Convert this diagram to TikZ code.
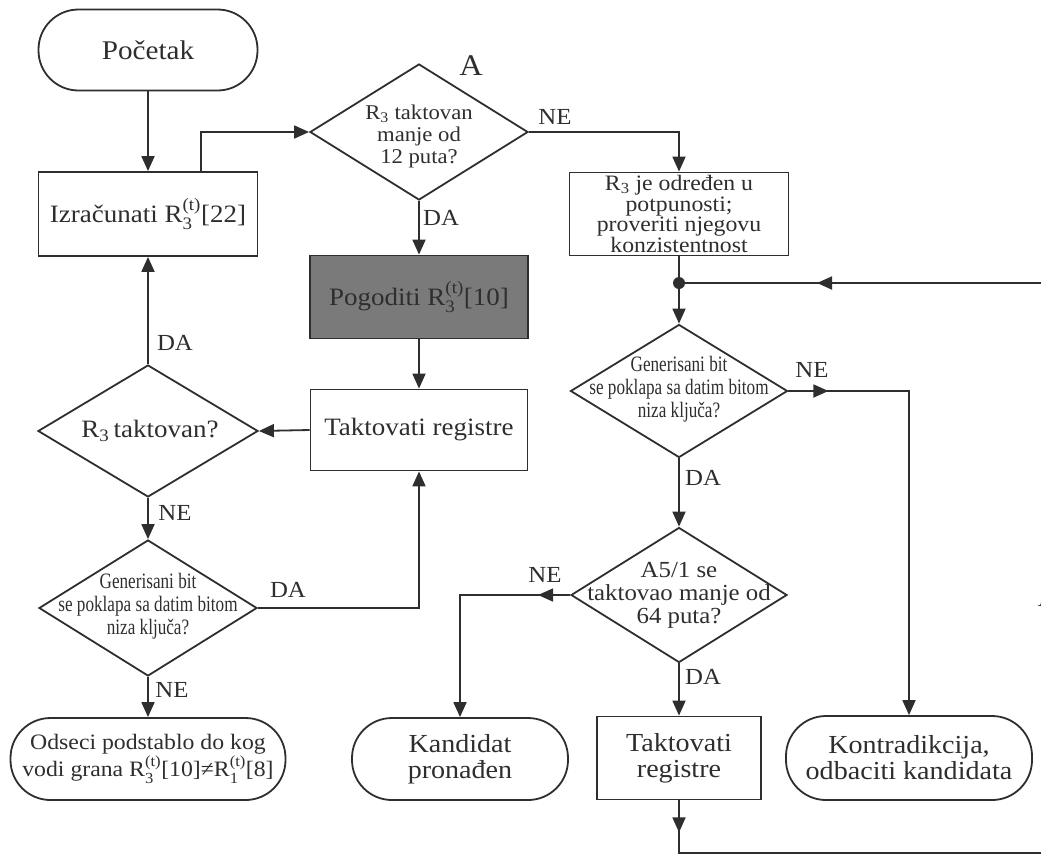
\documentclass[tikz,border=0pt]{standalone}
\usepackage{amsmath}
\usepackage{fontspec}
\setmainfont{Liberation Serif}[FakeStretch=1.08]
\newfontfamily\condfont{Liberation Serif}[FakeStretch=0.78]
\usetikzlibrary{arrows.meta,shapes.geometric,decorations.markings}

\definecolor{ink}{HTML}{2E2E2E}
\definecolor{shade}{HTML}{7A7A7A}

% register bit with time index, e.g. R_3^{(t)}
\newcommand{\regbit}[1]{$\text{R}^{\text{(t)}}_{\text{#1}}$}
\newcommand{\sz}[2]{\fontsize{#1}{#2}\selectfont}

\tikzset{
  base/.style={draw=ink, line width=1.8pt, text=ink, inner sep=0pt, align=center},
  procbox/.style={base, rectangle},
  termbox/.style={base, rectangle, rounded corners=40pt},
  decbox/.style={base, diamond},
  dtext/.style={text=ink, inner sep=0pt, align=center},
  flow/.style={draw=ink, line width=1.8pt},
  arr/.style={flow, -{Triangle[length=15pt,width=13pt]}},
  tag/.style={text=ink, font=\sz{23}{23}, inner sep=0pt},
  midtip/.style={postaction={decorate},
    decoration={markings, mark=at position #1 with {\arrow{Triangle[length=15pt,width=13pt]}}}},
}

\begin{document}
\begin{tikzpicture}[x=1pt, y=-1pt]
\useasboundingbox (0,0) rectangle (1041,855);

% ---- left column
\node[termbox, minimum width=219pt, minimum height=81pt, font=\sz{27}{28}] (start) at (148,50) {Početak};
\node[procbox, minimum width=219pt, minimum height=84pt, font=\sz{25}{27}] (calc) at (148,214) {Izračunati \regbit{3}[22]};
\node[decbox, minimum width=220pt, minimum height=132pt] (dR) at (148,431) {};
\node[dtext, font=\sz{25}{26}] (dRt) at (150,431) {R$_{\text{3}}$\,taktovan?};
\node[decbox, minimum width=218pt, minimum height=136pt] (dG1) at (148,608) {};
\node[dtext, font=\condfont\sz{22}{23}] (dG1t) at (148,606) {Generisani bit\\se poklapa sa datim bitom\\niza ključa?};
\node[termbox, minimum width=275pt, minimum height=82pt, font=\sz{22}{24}] (cut) at (148,759)
  {Odseci podstablo do kog\\vodi grana \regbit{3}[10]≠\regbit{1}[8]};

% ---- middle column
\node[decbox, minimum width=218pt, minimum height=136pt] (dA) at (419,132) {};
\node[dtext, font=\sz{21}{22}] (dAt) at (419,136) {R$_{\text{3}}$ taktovan\\manje od\\12 puta?};
\node[text=ink, inner sep=0pt, font=\sz{30}{30}] (markA) at (471,66) {A};
\node[procbox, fill=shade, minimum width=218pt, minimum height=83pt, font=\sz{25}{27}] (guess) at (419,297) {Pogoditi \regbit{3}[10]};
\node[procbox, minimum width=217pt, minimum height=81pt, font=\sz{25}{27}] (clk) at (419,430) {Taktovati registre};
\node[termbox, minimum width=216pt, minimum height=82pt, font=\sz{26}{26}] (found) at (460,759) {Kandidat\\pronađen};

% ---- right column
\node[procbox, minimum width=219pt, minimum height=83pt, font=\sz{22}{19}] (r3box) at (679,214)
  {R$_{\text{3}}$ je određen u\\potpunosti;\\proveriti njegovu\\konzistentnost};
\coordinate (jn) at (679,283);
\node[decbox, minimum width=217pt, minimum height=133pt] (dG2) at (679,391) {};
\node[dtext, font=\condfont\sz{22}{23}] (dG2t) at (679,389) {Generisani bit\\se poklapa sa datim bitom\\niza ključa?};
\node[decbox, minimum width=216pt, minimum height=135pt] (dT) at (679,595) {};
\node[dtext, font=\sz{23}{23}] (dTt) at (679,595) {A5/1 se\\taktovao manje od\\64 puta?};
\node[procbox, minimum width=164pt, minimum height=83pt, font=\sz{26}{26}] (clk2) at (679,758) {Taktovati\\registre};
\node[termbox, minimum width=246pt, minimum height=84pt, font=\sz{26}{26}] (contra) at (909,758) {Kontradikcija,\\odbaciti kandidata};

% loose ends leaving the sheet on the right
\coordinate (inR) at (1041,283);
\coordinate (outB) at (1041,853);

% ---- connectors
\draw[arr] (start) -- (calc);
\draw[arr] ([xshift=53pt]calc.north) |- (dA.west);
\draw[arr] (dA.east) -| (r3box.north);
\draw[arr] (dA) -- (guess);
\draw[arr] (guess) -- (clk);
\draw[arr] (clk.west) -- (dR.east);
\draw[arr] (dR.north) -- (calc.south);
\draw[arr] (dR.south) -- (dG1.north);
\draw[arr] (dG1.east) -| (clk.south);
\draw[arr] (dG1.south) -- (cut.north);

\draw[flow] (r3box.south) -- (jn);
\draw[arr] (jn) -- (dG2.north);
\draw[flow, midtip=224pt] (inR) -- (jn);
\fill[ink] (jn) circle (6pt);
\draw[arr, midtip=40pt] (dG2.east) -| (contra.north);
\draw[arr] (dG2.south) -- (dT.north);
\draw[arr, midtip=32pt] (dT.west) -| (found.north);
\draw[arr] (dT.south) -- (clk2.north);
\draw[flow, midtip=32pt] (clk2.south) |- (outB);

% ---- branch labels
\node[tag] (l1) at (555,117) {NE};
\node[tag] (l2) at (441,218) {DA};
\node[tag] (l3) at (175,343) {DA};
\node[tag] (l4) at (175,513) {NE};
\node[tag] (l5) at (288,590) {DA};
\node[tag] (l6) at (172,690) {NE};
\node[tag] (l7) at (812,370) {NE};
\node[tag] (l8) at (703,478) {DA};
\node[tag] (l9) at (545,575) {NE};
\node[tag] (l10) at (703,677) {DA};

% letter cut by the right edge of the sheet
\begin{scope}
\clip (0,0) rectangle (1041,855);
\node[text=ink, inner sep=0pt, font=\sz{26}{26}] (edgeA) at (1048,598) {A};
\end{scope}
\end{tikzpicture}
\end{document}
